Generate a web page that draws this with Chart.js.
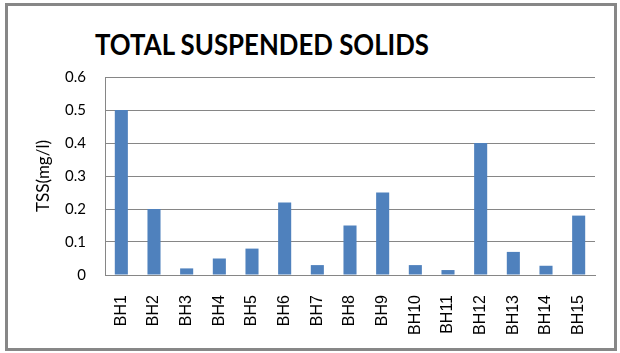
<!DOCTYPE html>
<html>
<head>
<meta charset="utf-8">
<script src="https://cdn.jsdelivr.net/npm/chart.js@4"></script>
<style>
  body { margin: 0; background: #fff; }
  #frame {
    position: absolute; left: 5px; top: 3px;
    width: 606px; height: 342px;
    border: 3px solid #878787;
  }
  #title {
    position: absolute; left: 0; top: 26px; width: 524px;
    text-align: center;
    font: bold 29px Lato, "Open Sans", sans-serif;
    color: #000;
    transform: scaleX(0.89);
    transform-origin: 262px 0;
  }
  #tss-chart { position: absolute; left: 0; top: 0; }
</style>
</head>
<body>
<div id="frame"></div>
<div id="title">TOTAL SUSPENDED SOLIDS</div>
<canvas id="tss-chart" width="620" height="353"></canvas>
<script>
const boreholes = ['BH1','BH2','BH3','BH4','BH5','BH6','BH7','BH8','BH9','BH10','BH11','BH12','BH13','BH14','BH15'];
const tssValues = [0.5, 0.2, 0.02, 0.05, 0.08, 0.22, 0.03, 0.15, 0.25, 0.03, 0.015, 0.4, 0.07, 0.028, 0.18];
const yTicks = [0, 0.1, 0.2, 0.3, 0.4, 0.5, 0.6];

const barBlue = '#4F81BD';
const gridGray = '#868686';

const tssCanvas = document.getElementById('tss-chart');
const tssChart = new Chart(tssCanvas, {
    type: 'bar',
    data: {
        labels: boreholes,
        datasets: [
            {
                label: 'TSS',
                data: tssValues,
                backgroundColor: barBlue,
                borderWidth: 0,
                barPercentage: 0.4,
                categoryPercentage: 1
            }
        ]
    },
    options: {
        responsive: false,
        animation: false,
        layout: {
            padding: { left: 30, right: 25, top: 77, bottom: 10 }
        },
        plugins: {
            legend: { display: false },
            tooltip: { enabled: false }
        },
        scales: {
            x: {
                grid: { display: false },
                border: { display: true, color: gridGray, width: 1 },
                ticks: {
                    color: '#000',
                    font: { family: '"Liberation Sans", Arial', size: 16 },
                    minRotation: 90,
                    maxRotation: 90,
                    autoSkip: false,
                    padding: 12
                },
                afterFit: function(scale) { scale.height = 353 - 10 - 275; }
            },
            y: {
                min: 0,
                max: 0.6,
                afterBuildTicks: function(scale) {
                    scale.ticks = yTicks.map(v => ({ value: v }));
                },
                grid: { color: gridGray, lineWidth: 1, drawTicks: false },
                border: { display: true, color: gridGray, width: 1 },
                ticks: {
                    color: '#000',
                    font: { family: 'Lato, "Open Sans"', size: 15 },
                    padding: 19,
                    callback: function(value) { return String(value); }
                },
                title: {
                    display: true,
                    text: 'TSS(mg/l)',
                    color: '#000',
                    font: { family: 'Lato, "Open Sans"', size: 17 },
                    padding: { top: 3, bottom: 0 }
                },
                afterFit: function(scale) { scale.width = 105 - 30; }
            }
        }
    }
});
</script>
</body>
</html>
